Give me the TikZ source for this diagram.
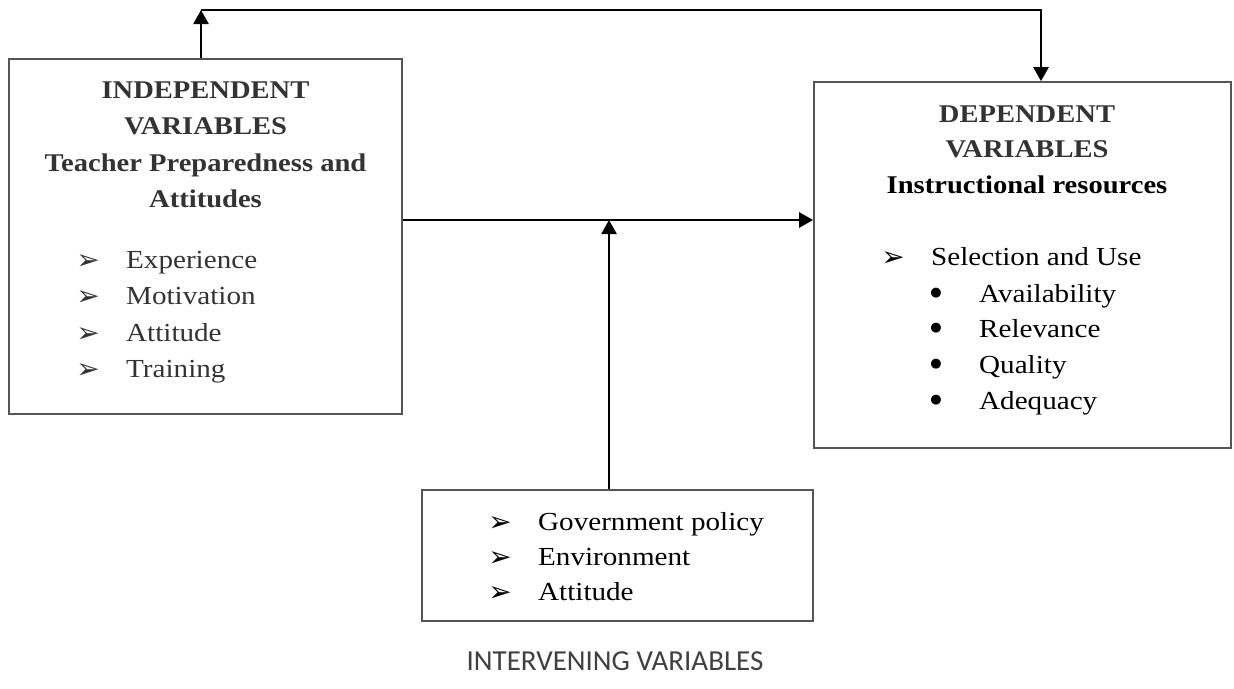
\documentclass[tikz,border=0pt]{standalone}
\usepackage{fontspec}
\setmainfont{Liberation Serif}[FakeStretch=1.12]
\newfontfamily\calib{Carlito}
\newfontfamily\djv{DejaVu Sans}
\usetikzlibrary{arrows.meta}
\definecolor{hd}{HTML}{333333}
\definecolor{bx}{HTML}{555555}
\definecolor{lb}{HTML}{404040}
\tikzset{
 boxnode/.style={draw=bx, line width=1.8pt, rectangle, inner sep=0pt},
 arr/.style={line width=2.7pt, -{Triangle[length=14pt,width=15pt]}},
 head/.style={anchor=base, inner sep=0pt, font=\bfseries\fontsize{25.5}{30}\selectfont},
 itemtxt/.style={anchor=base west, inner sep=0pt, font=\fontsize{26}{30}\selectfont},
 mk/.style={anchor=center, inner sep=0pt, font=\djv\fontsize{28}{28}\selectfont},
 dot/.style={anchor=center, inner sep=0pt, font=\djv\fontsize{13}{14}\selectfont},
}
\begin{document}
\begin{tikzpicture}[x=1pt,y=-1pt]
\useasboundingbox (0,0) rectangle (1234,688);
% boxes
\node[boxnode, minimum width=393pt, minimum height=355pt] (ind) at (205.5,236.5) {};
\node[boxnode, minimum width=417pt, minimum height=366pt] (dep) at (1022.5,265) {};
\node[boxnode, minimum width=391pt, minimum height=131pt] (itv) at (617.5,555.5) {};
% connector points
\coordinate (tl) at (201,10);
\coordinate (tr) at (1041,10);
\coordinate (mid) at (609,220);
\draw[arr] (ind.north -| tl) -- (tl);
\draw[arr] (tl) -- (tr) -- (tr |- dep.north);
\draw[arr] (ind.east |- mid) -- (dep.west |- mid);
\draw[arr] (itv.north -| mid) -- (mid);
% independent box text
\begin{scope}[text=hd]
\node[head] (i1) at (205.5,98) {INDEPENDENT};
\node[head] (i2) at (205.5,134) {VARIABLES};
\node[head] (i3) at (205.5,171) {Teacher Preparedness and};
\node[head] (i4) at (205.5,207) {Attitudes};
\node[mk] (im1) at (88,262.5) {➢};
\node[itemtxt] (it1) at (126,268) {Experience};
\node[mk] (im2) at (88,298.5) {➢};
\node[itemtxt] (it2) at (126,304) {Motivation};
\node[mk] (im3) at (88,335.5) {➢};
\node[itemtxt] (it3) at (126,341) {Attitude};
\node[mk] (im4) at (88,371.5) {➢};
\node[itemtxt] (it4) at (126,377) {Training};
\node[head] (d1) at (1027,122) {DEPENDENT};
\node[head] (d2) at (1027,157) {VARIABLES};
\end{scope}
% dependent box text
\node[head] (d3) at (1027,193) {Instructional resources};
\node[mk] (dm) at (893,259.5) {➢};
\node[itemtxt] (dt) at (931,265) {Selection and Use};
\node[dot] (db1) at (936,293) {●};
\node[itemtxt] (ds1) at (979,302) {Availability};
\node[dot] (db2) at (936,328) {●};
\node[itemtxt] (ds2) at (979,337) {Relevance};
\node[dot] (db3) at (936,364) {●};
\node[itemtxt] (ds3) at (979,373) {Quality};
\node[dot] (db4) at (936,400) {●};
\node[itemtxt] (ds4) at (979,409) {Adequacy};
% intervening box text
\node[mk] (vm1) at (500,524.5) {➢};
\node[itemtxt] (vt1) at (538,530) {Government policy};
\node[mk] (vm2) at (500,559.5) {➢};
\node[itemtxt] (vt2) at (538,565) {Environment};
\node[mk] (vm3) at (500,594.5) {➢};
\node[itemtxt] (vt3) at (538,600) {Attitude};
\node[anchor=base, inner sep=0pt, text=lb, font=\calib\fontsize{29}{32}\selectfont] (lab) at (615,670) {INTERVENING VARIABLES};
\end{tikzpicture}
\end{document}
